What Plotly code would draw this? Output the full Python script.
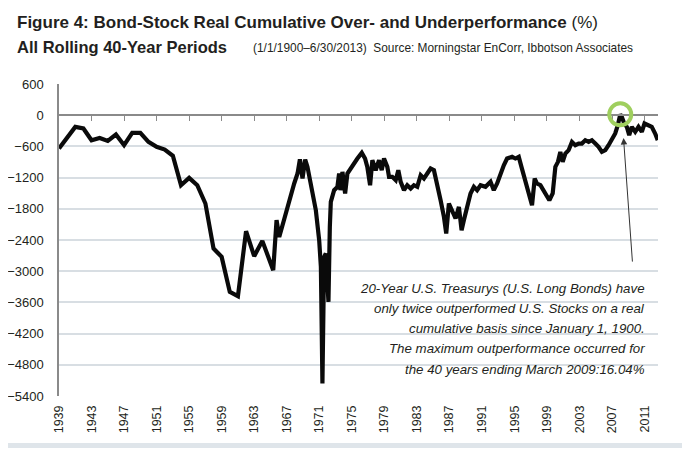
import plotly.graph_objects as go

# 40-year rolling periods (% real cumulative, bonds minus stocks)
YEARS = [
    1939, 1940, 1941, 1942, 1943, 1944, 1945, 1946, 1947, 1948, 1949, 1950, 1951,
    1952, 1953, 1954, 1955, 1956, 1957, 1958, 1959, 1960, 1961, 1962, 1963, 1964,
    1965.34, 1965.75, 1966.08, 1966.69, 1967.31, 1967.92, 1968.33, 1968.62, 1968.94,
    1969.27, 1969.55, 1969.97, 1970.58, 1970.99, 1971.20, 1971.39, 1971.60, 1971.81,
    1972.01, 1972.13, 1972.30, 1972.42, 1972.83, 1973.23, 1973.44, 1973.60, 1973.85,
    1974.18, 1974.46, 1975.07, 1975.69, 1976.23, 1976.63, 1976.91, 1977.25, 1977.53,
    1977.94, 1978.35, 1978.68, 1978.96, 1979.37, 1979.58, 1979.98, 1980.40, 1980.72,
    1981.01, 1981.42, 1981.82, 1982.24, 1982.64, 1983.05, 1983.47, 1983.87, 1984.28,
    1984.69, 1985.10, 1985.50, 1985.92, 1986.33, 1986.61, 1986.94, 1987.34, 1987.76,
    1988.17, 1988.50, 1988.78, 1989.18, 1989.60, 1990.01, 1990.41, 1990.83, 1991.44,
    1992.06, 1992.46, 1992.87, 1993.28, 1993.69, 1994.09, 1994.71, 1995.12, 1995.53,
    1995.86, 1996.14, 1996.47, 1996.84, 1997.16, 1997.49, 1997.77, 1998.19, 1998.60,
    1999.00, 1999.29, 1999.70, 2000.03, 2000.35, 2000.64, 2000.93, 2001.26, 2001.66,
    2002.07, 2002.48, 2002.89, 2003.29, 2003.71, 2004.12, 2004.52, 2004.94, 2005.34,
    2005.75, 2006.17, 2006.57, 2006.98, 2007.39, 2007.71, 2008.01, 2008.20, 2008.50,
    2008.82, 2009.11, 2009.43, 2009.85, 2010.25, 2010.66, 2010.99, 2011.48, 2011.88,
    2012.30, 2012.62,
]
VALUES = [
    -640, -420, -225, -256, -481, -437, -494, -371, -577, -340, -340, -513, -609,
    -660, -780, -1346, -1205, -1346, -1698, -2564, -2725, -3398, -3481, -2231, -2712, -2417,
    -2981, -2019, -2340, -2000, -1635, -1313, -1121, -850, -1217,
    -852, -994, -1313, -1827, -2404, -2917, -5160, -2725, -2660,
    -3173, -3590, -2148, -1667, -1442, -1379, -1121, -1442, -1090,
    -1506, -1121, -962, -833, -724, -833, -994, -1346, -865,
    -1058, -865, -1058, -833, -994, -1186, -1186, -1250, -1058,
    -1282, -1442, -1346, -1410, -1346, -1378, -1154, -1218, -1121,
    -1025, -1058, -1314, -1635, -1955, -2276, -1698, -1827, -1987,
    -1763, -2211, -2019, -1731, -1506, -1378, -1442, -1346, -1378,
    -1282, -1442, -1314, -1121, -962, -833, -801, -833, -801,
    -994, -1154, -1314, -1571, -1731, -1218, -1314, -1346, -1442,
    -1571, -1635, -1506, -994, -897, -705, -897, -737, -673,
    -513, -577, -545, -545, -481, -513, -481, -545, -609,
    -705, -673, -577, -481, -352, -192, 16, -32, -160,
    -224, -385, -224, -320, -224, -320, -160, -192, -224,
    -352, -481,
]

TICK_YEARS = list(range(1939, 2012, 4))
TICK_LABELS = [str(y) for y in TICK_YEARS]
Y_TICKS = list(range(600, -5401, -600))

TITLE = "<b>Figure 4: Bond-Stock Real Cumulative Over- and Underperformance</b> (%)"
SUBTITLE = "<b>All Rolling 40-Year Periods</b>"
SOURCE = "(1/1/1900–6/30/2013)  Source: Morningstar EnCorr, Ibbotson Associates"
NOTE_LINES = [
    "20-Year U.S. Treasurys (U.S. Long Bonds) have",
    "only twice outperformed U.S. Stocks on a real",
    "cumulative basis since January 1, 1900.",
    "The maximum outperformance occurred for",
    "the 40 years ending March 2009:16.04%",
]

FONT = "Liberation Sans, Arial, sans-serif"
TEXT = "#231f20"
GRID = "#d8dee3"
AXIS = "#8a8a8a"
FRAME = "#dfe5ea"

X_RANGE = [1939, 2012.65]
Y_RANGE = [-5400, 600]

# the page body adds 8px round the figure, so the figure is 16px smaller than the window
PAD = 8
W, H = 690 - 2 * PAD, 456 - 2 * PAD
ML, MR, MT, MB = 51, 24, 76, 52
PW, PH = W - ML - MR, H - MT - MB


def px(x):
    # window pixel -> paper x
    return (x - PAD - ML) / PW


def py(y):
    # window pixel -> paper y
    return (H - MB - (y - PAD)) / PH


fig = go.Figure()
fig.add_trace(
    go.Scatter(
        x=YEARS,
        y=VALUES,
        mode="lines",
        line={"color": "#0a0a0a", "width": 4.2},
        hoverinfo="skip",
        showlegend=False,
    )
)
# invisible copy so the zero-line axis (ticks on the 0 level) is drawn
fig.add_trace(
    go.Scatter(
        x=YEARS,
        y=VALUES,
        xaxis="x2",
        mode="lines",
        line={"width": 0},
        hoverinfo="skip",
        showlegend=False,
    )
)

peak = max(range(len(VALUES)), key=lambda i: VALUES[i])
peak_x, peak_y = YEARS[peak], VALUES[peak]

# grey strip of the page frame below the white panel
fig.add_shape(
    type="rect", xref="paper", yref="paper",
    x0=px(PAD), x1=px(690 - PAD), y0=py(456 - PAD), y1=py(443),
    fillcolor=FRAME, line={"width": 0}, layer="below",
)
fig.add_shape(
    type="circle", xref="x", yref="y",
    xsizemode="pixel", ysizemode="pixel",
    xanchor=peak_x, yanchor=peak_y,
    x0=-11, x1=11, y0=-11, y1=11,
    line={"color": "#9fcf5e", "width": 4},
)

fig.add_annotation(
    x=peak_x + 0.4, y=-440, ax=9, ay=125,
    showarrow=True, arrowhead=2, arrowsize=1.3, arrowwidth=1, arrowcolor="#333333",
    text="",
)
for i, line in enumerate(NOTE_LINES):
    fig.add_annotation(
        xref="paper", yref="paper", x=px(647), y=py(288 + 20.3 * i),
        xanchor="right", yanchor="middle",
        text=line, showarrow=False,
        font={"family": FONT, "size": 13.3, "color": TEXT, "style": "italic"},
    )
fig.add_annotation(
    xref="paper", yref="paper", x=px(15), y=py(22), xanchor="left", yanchor="middle",
    text=TITLE, showarrow=False, font={"family": FONT, "size": 17, "color": TEXT},
)
fig.add_annotation(
    xref="paper", yref="paper", x=px(15), y=py(47), xanchor="left", yanchor="middle",
    text=SUBTITLE, showarrow=False, font={"family": FONT, "size": 16.5, "color": TEXT},
)
fig.add_annotation(
    xref="paper", yref="paper", x=px(251), y=py(48), xanchor="left", yanchor="middle",
    text=SOURCE, showarrow=False, font={"family": FONT, "size": 11.9, "color": TEXT},
)

fig.update_layout(
    width=W,
    height=H,
    margin={"l": ML, "r": MR, "t": MT, "b": MB},
    paper_bgcolor="white",
    plot_bgcolor="white",
    font={"family": FONT, "size": 12.5, "color": TEXT},
    showlegend=False,
    xaxis={
        "range": X_RANGE,
        "tickvals": TICK_YEARS,
        "ticktext": TICK_LABELS,
        "tickangle": -90,
        "ticks": "",
        "ticklabelstandoff": 6,
        "showgrid": False,
        "zeroline": False,
        "showline": False,
        "automargin": False,
        "tickfont": {"size": 12.5},
    },
    xaxis2={
        "range": X_RANGE,
        "overlaying": "x",
        "anchor": "free",
        "position": (0 - Y_RANGE[0]) / (Y_RANGE[1] - Y_RANGE[0]),
        "side": "bottom",
        "tickvals": TICK_YEARS[1:],
        "ticks": "outside",
        "ticklen": 5,
        "tickcolor": AXIS,
        "showticklabels": False,
        "showline": True,
        "linecolor": AXIS,
        "linewidth": 1.5,
        "showgrid": False,
        "zeroline": False,
        "automargin": False,
    },
    yaxis={
        "range": Y_RANGE,
        "tickvals": Y_TICKS,
        "ticks": "",
        "ticklabelstandoff": 11,
        "showgrid": True,
        "gridcolor": GRID,
        "gridwidth": 2,
        "zeroline": False,
        "showline": True,
        "linecolor": AXIS,
        "linewidth": 1.5,
        "automargin": False,
        "tickfont": {"size": 13},
    },
)

fig.write_html("out.html")
